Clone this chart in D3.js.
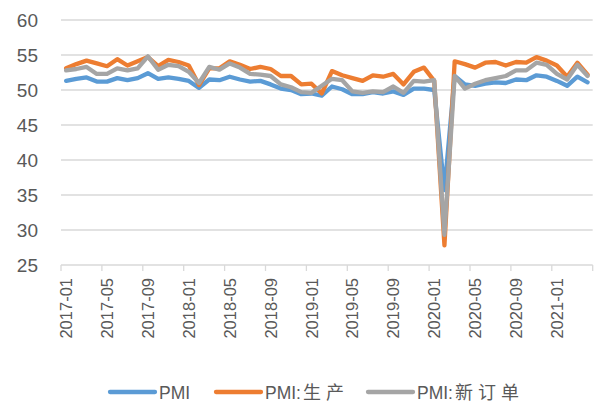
<!DOCTYPE html>
<html>
<head>
<meta charset="utf-8">
<script src="https://cdn.jsdelivr.net/npm/d3@7"></script>
<style>
  body { margin: 0; background: #fff; }
  svg text { font-family: "Liberation Sans", "Noto Sans CJK SC", sans-serif; fill: #595959; }
</style>
</head>
<body>
<div id="chart"></div>
<script>
// months 2017-01 .. 2021-04
const months = [];
for (let yr = 2017; yr <= 2021; yr++) {
    for (let m = 1; m <= 12; m++) {
        if (yr === 2021 && m > 4) break;
        months.push(yr + '-' + String(m).padStart(2, '0'));
    }
}

const pmi = [
    51.3, 51.6, 51.8, 51.2, 51.2, 51.7, 51.4, 51.7, 52.4, 51.6, 51.8, 51.6,
    51.3, 50.3, 51.5, 51.4, 51.9, 51.5, 51.2, 51.3, 50.8, 50.2, 50.0, 49.4,
    49.5, 49.2, 50.5, 50.1, 49.4, 49.4, 49.7, 49.5, 49.8, 49.3, 50.2, 50.2,
    50.0, 35.7, 52.0, 50.8, 50.6, 50.9, 51.1, 51.0, 51.5, 51.4, 52.1, 51.9,
    51.3, 50.6, 51.9, 51.1
];
const production = [
    53.1, 53.7, 54.2, 53.8, 53.4, 54.4, 53.5, 54.1, 54.7, 53.4, 54.3, 54.0,
    53.5, 50.7, 53.1, 53.1, 54.1, 53.6, 53.0, 53.3, 53.0, 52.0, 52.0, 50.8,
    50.9, 49.5, 52.7, 52.1, 51.7, 51.3, 52.1, 51.9, 52.3, 50.8, 52.6, 53.2,
    51.3, 27.8, 54.1, 53.7, 53.2, 53.9, 54.0, 53.5, 54.0, 53.9, 54.7, 54.2,
    53.5, 51.9, 53.9, 52.2
];
const newOrders = [
    52.8, 53.0, 53.3, 52.3, 52.3, 53.1, 52.8, 53.1, 54.8, 52.9, 53.6, 53.4,
    52.6, 51.0, 53.3, 52.9, 53.8, 53.2, 52.3, 52.2, 52.0, 50.8, 50.4, 49.7,
    49.6, 50.6, 51.6, 51.4, 49.8, 49.6, 49.8, 49.7, 50.5, 49.6, 51.3, 51.2,
    51.4, 29.3, 52.0, 50.2, 50.9, 51.4, 51.7, 52.0, 52.8, 52.8, 53.9, 53.6,
    52.3, 51.5, 53.6, 52.0
];

const seriesNames = [['PMI', ''], ['PMI:', '生产'], ['PMI:', '新订单']];
const seriesColors = ['#5B9BD5', '#ED7D31', '#A5A5A5'];
const yTicks = [25, 30, 35, 40, 45, 50, 55, 60];

const width = 598, height = 403;
const margin = {left: 61, right: 592.7, top: 20, bottom: 265};

const svg = d3.select('#chart').append('svg')
    .attr('width', width)
    .attr('height', height);

const x = d3.scaleBand().domain(months).range([margin.left, margin.right]).padding(0);
const y = d3.scaleLinear().domain([25, 60]).range([margin.bottom, margin.top]);

// gridlines
svg.append('g')
    .selectAll('line')
    .data(yTicks)
    .enter().append('line')
    .attr('x1', margin.left).attr('x2', margin.right)
    .attr('y1', d => y(d)).attr('y2', d => y(d))
    .attr('stroke', '#d9d9d9')
    .attr('stroke-width', 1.3);

// y labels
svg.append('g')
    .selectAll('text')
    .data(yTicks)
    .enter().append('text')
    .attr('x', 38)
    .attr('y', d => y(d) + 7)
    .attr('text-anchor', 'end')
    .style('font-size', '19px')
    .text(d => d);

// x ticks at band boundaries every 4 months
const tickIdx = d3.range(0, months.length + 1, 4);
svg.append('g')
    .selectAll('line')
    .data(tickIdx)
    .enter().append('line')
    .attr('x1', i => i < months.length ? x(months[i]) : margin.right)
    .attr('x2', i => i < months.length ? x(months[i]) : margin.right)
    .attr('y1', margin.bottom).attr('y2', margin.bottom + 6)
    .attr('stroke', '#d9d9d9')
    .attr('stroke-width', 1.3);

// x labels
const labelIdx = d3.range(0, months.length, 4);
svg.append('g')
    .selectAll('text')
    .data(labelIdx)
    .enter().append('text')
    .attr('transform', i => `translate(${x(months[i]) + x.bandwidth() / 2 + 6}, 278) rotate(-90)`)
    .attr('text-anchor', 'end')
    .style('font-size', '16.5px')
    .text(i => months[i]);

// lines
const line = d3.line()
    .x((d, i) => x(months[i]) + x.bandwidth() / 2)
    .y(d => y(d));

[pmi, production, newOrders].forEach((s, k) => {
    svg.append('path')
        .datum(s)
        .attr('fill', 'none')
        .attr('stroke', seriesColors[k])
        .attr('stroke-width', 4.3)
        .attr('stroke-linejoin', 'round')
        .attr('stroke-linecap', 'round')
        .attr('d', line);
});

// legend
const legendX = [110, 216, 368];
const legend = svg.append('g');
seriesNames.forEach((name, k) => {
    legend.append('line')
        .attr('x1', legendX[k]).attr('x2', legendX[k] + 45)
        .attr('y1', 392).attr('y2', 392)
        .attr('stroke', seriesColors[k])
        .attr('stroke-width', 4.3)
        .attr('stroke-linecap', 'round');
    let t = legend.append('text')
        .attr('x', legendX[k] + 49)
        .attr('y', 398.5)
        .style('font-size', '17.5px');
    t.append('tspan').text(name[0]);
    if (name[1]) {
        t.append('tspan')
            .attr('dx', 2)
            .style('font-size', '18px')
            .style('letter-spacing', '5px')
            .text(name[1]);
    }
});
</script>
</body>
</html>
